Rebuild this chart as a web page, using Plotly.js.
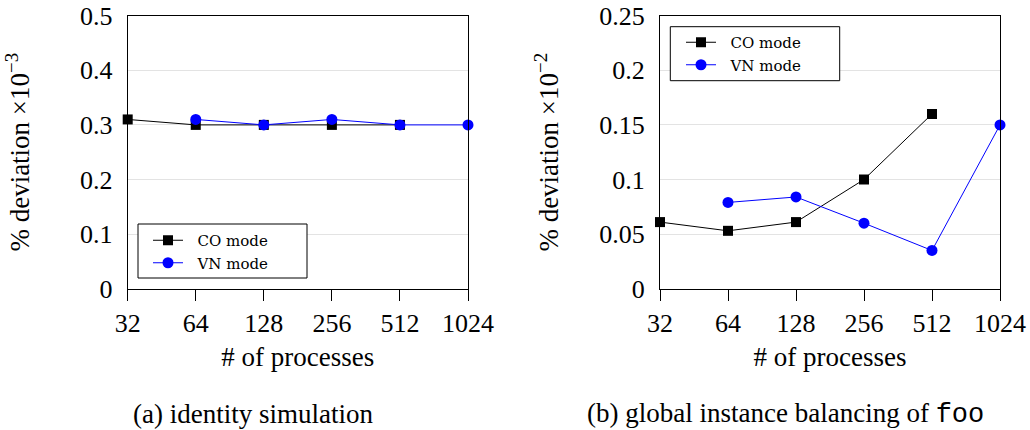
<!DOCTYPE html>
<html><head><meta charset="utf-8">
<script src="https://cdn.plot.ly/plotly-3.0.1.min.js"></script></head>
<body style="margin:0">
<div id="c" style="width:1030px;height:430px"></div>
<script>
// ---- data ----
const processTicks = [32, 64, 128, 256, 512, 1024];
const processTickLabels = ['32', '64', '128', '256', '512', '1024'];

// (a) identity simulation  (values ×10^-3)
const idCoX = [32, 64, 128, 256, 512];
const idCoY = [0.31, 0.30, 0.30, 0.30, 0.30];
const idVnX = [64, 128, 256, 512, 1024];
const idVnY = [0.31, 0.30, 0.31, 0.30, 0.30];

// (b) global instance balancing of foo  (values ×10^-2)
const gbCoX = [32, 64, 128, 256, 512];
const gbCoY = [0.061, 0.053, 0.061, 0.100, 0.160];
const gbVnX = [64, 128, 256, 512, 1024];
const gbVnY = [0.079, 0.084, 0.060, 0.035, 0.150];

const yTicksA = [0, 0.1, 0.2, 0.3, 0.4, 0.5];
const yTickLabelsA = ['0', '0.1', '0.2', '0.3', '0.4', '0.5'];
const yTicksB = [0, 0.05, 0.1, 0.15, 0.2, 0.25];
const yTickLabelsB = ['0', '0.05', '0.1', '0.15', '0.2', '0.25'];

const seriesNames = ['CO mode', 'VN mode'];

(function () {
  var W = 1030, H = 430;
  var fx = function (v) { return v / W; };
  var fy = function (v) { return (H - v) / H; };
  var SER = 'Liberation Serif';
  var pad = '\u00a0\u00a0';

  function co(x, y, xa, ya, lg) {
    return {x: x, y: y, name: pad + seriesNames[0], xaxis: xa, yaxis: ya, legend: lg,
      mode: 'lines+markers', line: {color: '#000', width: 1},
      marker: {symbol: 'square', size: 10, color: '#000'}, cliponaxis: false};
  }
  function vn(x, y, xa, ya, lg) {
    return {x: x, y: y, name: pad + seriesNames[1], xaxis: xa, yaxis: ya, legend: lg,
      mode: 'lines+markers', line: {color: '#0000ff', width: 1},
      marker: {symbol: 'circle', size: 11, color: '#0000ff'}, cliponaxis: false};
  }

  var data = [
    co(idCoX, idCoY, 'x', 'y', 'legend'),
    vn(idVnX, idVnY, 'x', 'y', 'legend'),
    co(gbCoX, gbCoY, 'x2', 'y2', 'legend2'),
    vn(gbVnX, gbVnY, 'x2', 'y2', 'legend2')
  ];

  var eps = 1e-6;
  var xr = [Math.log10(processTicks[0]) - eps, Math.log10(processTicks[processTicks.length - 1]) + eps];

  function xa(d0, d1, anchor) {
    return {
      type: 'log', domain: [d0, d1], range: xr, anchor: anchor,
      tickvals: processTicks, ticktext: processTickLabels,
      ticks: 'outside', ticklen: 11, tickwidth: 1, tickcolor: '#000',
      showline: true, linecolor: '#000', linewidth: 1, mirror: true,
      showgrid: false, zeroline: false, ticklabelstandoff: 0,
      tickfont: {family: SER, size: 26, color: '#000'},
      title: {text: '# of processes', font: {family: SER, size: 27, color: '#000'}, standoff: 10},
      automargin: false
    };
  }
  function ya(range, tv, tt, anchor, t, so) {
    return {
      range: range, domain: [fy(288.7), fy(15.7)], anchor: anchor,
      tickvals: tv, ticktext: tt, ticks: '', ticklabelstandoff: 9,
      showline: true, linecolor: '#000', linewidth: 1, mirror: true,
      showgrid: true, gridcolor: '#e3e3e3', gridwidth: 1, zeroline: false,
      tickfont: {family: SER, size: 26, color: '#000'},
      title: {text: t, font: {family: SER, size: 27, color: '#000'}, standoff: so},
      automargin: false
    };
  }
  function lg(x, y) {
    return {x: x, y: y, xanchor: 'left', yanchor: 'top', bgcolor: 'rgba(0,0,0,0)', borderwidth: 0,
      font: {family: 'DejaVu Serif', size: 15, color: '#000'}, tracegroupgap: 0, itemwidth: 30};
  }

  var lay = {
    width: W, height: H,
    margin: {l: 0, r: 0, t: 0, b: 0},
    paper_bgcolor: '#fff', plot_bgcolor: '#fff',
    showlegend: true,
    xaxis: xa(fx(127.7), fx(468), 'y'),
    yaxis: ya([0, 0.5], yTicksA, yTickLabelsA, 'x', '% deviation ×10<sup>−3</sup>', 42),
    xaxis2: xa(fx(660), fx(1000), 'y2'),
    yaxis2: ya([0, 0.25], yTicksB, yTickLabelsB, 'x2', '% deviation ×10<sup>−2</sup>', 32),
    legend: lg(fx(148), fy(224)),
    legend2: lg(fx(681), fy(26)),
    shapes: [
      {type: 'rect', xref: 'paper', yref: 'paper', x0: fx(138), x1: fx(307), y0: fy(278), y1: fy(224),
       line: {color: '#000', width: 1}, fillcolor: '#fff', layer: 'above'},
      {type: 'rect', xref: 'paper', yref: 'paper', x0: fx(670.3), x1: fx(839.7), y0: fy(80.7), y1: fy(26.7),
       line: {color: '#000', width: 1}, fillcolor: '#fff', layer: 'above'}
    ],
    annotations: [
      {text: '(a) identity simulation', xref: 'paper', yref: 'paper', x: fx(252.7), y: fy(414),
       xanchor: 'center', yanchor: 'middle', showarrow: false, font: {family: SER, size: 27, color: '#000'}},
      {text: '(b) global instance balancing of <span style="font-family:Liberation Mono">foo</span>',
       xref: 'paper', yref: 'paper', x: fx(785), y: fy(414),
       xanchor: 'center', yanchor: 'middle', showarrow: false, font: {family: SER, size: 27, color: '#000'}}
    ]
  };

  Plotly.newPlot('c', data, lay, {displayModeBar: false});
})();
</script>
</body></html>
